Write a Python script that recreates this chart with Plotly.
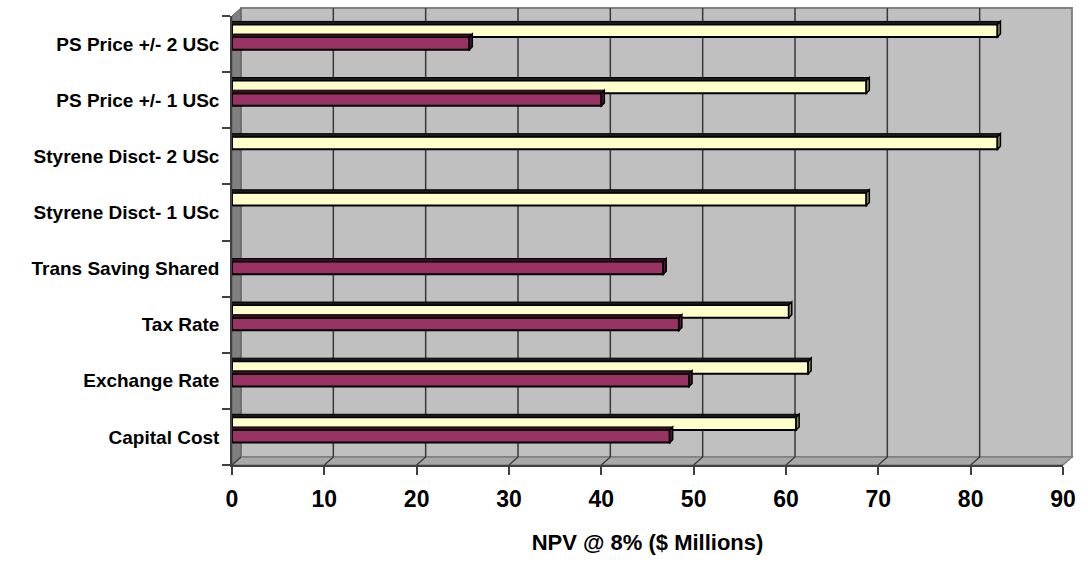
import plotly.graph_objects as go

# Sensitivity cases, listed bottom to top
categories = [
    "Capital Cost",
    "Exchange Rate",
    "Tax Rate",
    "Trans Saving Shared",
    "Styrene Disct- 1 USc",
    "Styrene Disct- 2 USc",
    "PS Price +/- 1 USc",
    "PS Price +/- 2 USc",
]
# NPV @ 8% in $ millions (None = no bar for that case)
high_npv = [61.1, 62.4, 60.3, None, 68.7, 82.9, 68.7, 82.9]
low_npv = [47.4, 49.5, 48.4, 46.7, None, None, 40.0, 25.7]
x_ticks = [0, 10, 20, 30, 40, 50, 60, 70, 80, 90]

YELLOW = "#FFFFCC"
PURPLE = "#993366"
YELLOW_SIDE = "#8C8C5A"
PURPLE_SIDE = "#4D1A33"
WALL = "#C0C0C0"
SIDE_WALL = "#808080"
GRID = "#383838"
FONT = "Liberation Sans, Arial, sans-serif"

W, H = 1088, 565
ML, MR, MT, MB = 232, 19, 16, 100
PW, PH = W - ML - MR, H - MT - MB
XMAX = 90
DX, DY = 9, 8          # depth of the back wall in pixels
BAR_SHIFT = 7          # bars sit a little behind the front plane
BARGAP = 0.55
DEPTH = 3              # bar depth in pixels

n = len(categories)
band = PH / n
bar_h = band * (1 - BARGAP) / 2
unit = PW / XMAX
positions = list(range(n))


def fx(p):
    return (p - ML) / PW


def fy(p):
    return (H - MB - p) / PH


fig = go.Figure()
# carrier for the front-plane category axis (draws nothing)
fig.add_trace(go.Scatter(
    x=[None] * n, y=positions, mode="markers", yaxis="y",
    marker=dict(opacity=0), showlegend=False, hoverinfo="skip",
))
fig.add_trace(go.Bar(
    y=categories, x=low_npv, orientation="h", yaxis="y2",
    marker=dict(color=PURPLE, line=dict(color="black", width=2)),
    name="Low", hoverinfo="x+y",
))
fig.add_trace(go.Bar(
    y=categories, x=high_npv, orientation="h", yaxis="y2",
    marker=dict(color=YELLOW, line=dict(color="black", width=2)),
    name="High", hoverinfo="x+y",
))

shapes = []
bottom, top, left, right = H - MB, MT, ML, W - MR
# back wall
shapes.append(dict(type="rect", xref="paper", yref="paper",
                   x0=fx(left + DX), x1=fx(right + DX),
                   y0=fy(bottom - DY), y1=fy(top - DY),
                   fillcolor=WALL, line=dict(color=SIDE_WALL, width=2), layer="below"))
# left side wall
shapes.append(dict(type="path", xref="paper", yref="paper",
                   path=f"M{fx(left)},{fy(top)} L{fx(left+DX)},{fy(top-DY)} "
                        f"L{fx(left+DX)},{fy(bottom-DY)} L{fx(left)},{fy(bottom)} Z",
                   fillcolor=SIDE_WALL, line=dict(color="#606060", width=1), layer="below"))
# floor
shapes.append(dict(type="path", xref="paper", yref="paper",
                   path=f"M{fx(left)},{fy(bottom)} L{fx(left+DX)},{fy(bottom-DY)} "
                        f"L{fx(right+DX)},{fy(bottom-DY)} L{fx(right)},{fy(bottom)} Z",
                   fillcolor="#A8A8A8", line=dict(color=SIDE_WALL, width=1.5), layer="below"))
# gridlines on the back wall and across the floor
for t in x_ticks[1:-1]:
    shapes.append(dict(type="line", xref="x", yref="paper", xsizemode="pixel",
                       xanchor=t, x0=DX, x1=DX, y0=fy(bottom - DY), y1=fy(top - DY),
                       line=dict(color=GRID, width=1.5), layer="below"))
for t in x_ticks:
    shapes.append(dict(type="line", xref="x", yref="paper", xsizemode="pixel",
                       xanchor=t, x0=0, x1=DX, y0=fy(bottom), y1=fy(bottom - DY),
                       line=dict(color=GRID, width=1.2), layer="below"))

# 3-D top and end faces of each bar, anchored to the bar value
for i in range(n):
    centre = bottom - (i + 0.5) * band - BAR_SHIFT
    for vals, upper, side in ((high_npv, True, YELLOW_SIDE), (low_npv, False, PURPLE_SIDE)):
        v = vals[i]
        if v is None:
            continue
        b_top = centre - bar_h if upper else centre
        b_bot = centre if upper else centre + bar_h
        lx = -v * unit
        shapes.append(dict(type="path", xref="x", yref="paper", xsizemode="pixel", xanchor=v,
                           path=f"M{lx},{fy(b_top)} L{lx+DEPTH},{fy(b_top-DEPTH)} "
                                f"L{DEPTH},{fy(b_top-DEPTH)} L0,{fy(b_top)} Z",
                           fillcolor="#1A1A1A" if upper else "#3A0F24",
                           line=dict(color="black", width=1), layer="above"))
        shapes.append(dict(type="path", xref="x", yref="paper", xsizemode="pixel", xanchor=v,
                           path=f"M0,{fy(b_top)} L{DEPTH},{fy(b_top-DEPTH)} "
                                f"L{DEPTH},{fy(b_bot-DEPTH)} L0,{fy(b_bot)} Z",
                           fillcolor=side, line=dict(color="black", width=1.5), layer="above"))

shift = BAR_SHIFT / band
fig.update_layout(
    width=W, height=H,
    margin=dict(l=ML, r=MR, t=MT, b=MB),
    paper_bgcolor="white", plot_bgcolor="rgba(0,0,0,0)",
    showlegend=False,
    barmode="group", bargap=BARGAP, bargroupgap=0,
    font=dict(family=FONT, color="black"),
    shapes=shapes,
    xaxis=dict(
        range=[0, XMAX], tickvals=x_ticks, showgrid=False, zeroline=False,
        showline=True, linecolor="#404040", linewidth=2,
        ticks="outside", ticklen=8, tickcolor="#404040", tickwidth=1.5,
        tickfont=dict(size=23, family=FONT, weight="bold"),
        ticklabelstandoff=4,
        title=dict(text="<b>NPV @ 8% ($ Millions)</b>", font=dict(size=22, family=FONT),
                   standoff=24),
    ),
    yaxis=dict(
        range=[-0.5, n - 0.5], showgrid=False, zeroline=False,
        tickmode="array", tickvals=positions, ticktext=categories, ticks="",
        showline=True, linecolor="#404040", linewidth=1.5,
        tickfont=dict(size=19, family=FONT, weight="bold"),
        ticklabelstandoff=7,
        minor=dict(tickmode="array", tickvals=[p - 0.5 for p in positions] + [n - 0.5],
                   ticks="outside", ticklen=8, tickcolor="#404040", tickwidth=1.5,
                   showgrid=False),
    ),
    yaxis2=dict(
        type="category", categoryorder="array", categoryarray=categories,
        overlaying="y", range=[-0.5 - shift, n - 0.5 - shift],
        visible=False, showgrid=False, zeroline=False,
    ),
)

fig.write_html("out.html")
